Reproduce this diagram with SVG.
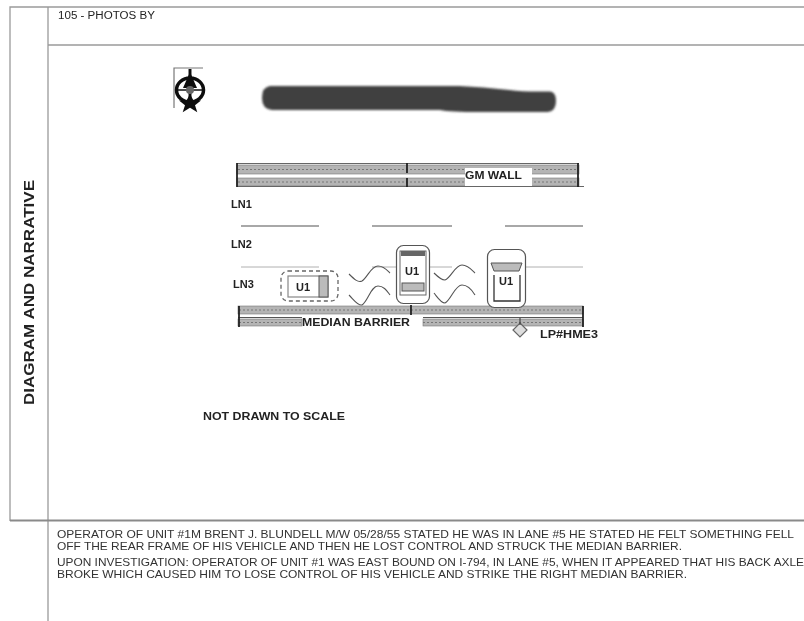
<svg xmlns="http://www.w3.org/2000/svg" width="804" height="621" viewBox="0 0 804 621">
<defs>
<filter id="soft" x="-2%" y="-2%" width="104%" height="104%"><feGaussianBlur stdDeviation="0.65"/></filter>
<filter id="softer" x="-5%" y="-30%" width="110%" height="160%"><feGaussianBlur stdDeviation="1"/></filter>
</defs>
<style>
.frame{stroke:#9a9a9a;stroke-width:1.3;fill:none}
.lane{stroke:#8c8c8c;stroke-width:1.3;fill:none}
.thin{stroke:#b0b0b0;stroke-width:1;fill:none}
.band{fill:#b4b4b4;stroke:#777;stroke-width:.6}
.hatch{stroke:#777;stroke-width:1;stroke-dasharray:2 2;fill:none}
.post{stroke:#222;stroke-width:1.8;fill:none}
.car{fill:#fff;stroke:#555;stroke-width:1.2}
.dash{fill:#fff;stroke:#666;stroke-width:1.3;stroke-dasharray:4 3}
.wave{stroke:#555;stroke-width:1.1;fill:none}
.t{font-family:"Liberation Sans",Arial,sans-serif;fill:#222}
.b{font-weight:bold}
.body{font-size:10.500px;fill:#333}
.lab{font-size:11px;font-weight:bold}
</style>
<rect width="804" height="621" fill="#fff"/>
<g filter="url(#soft)">
<g id="frame">
<path class="frame" d="M10 521V7H804M48 7V621M48 45H804"/>
<path d="M10 520.500H804" stroke="#8a8a8a" stroke-width="2" fill="none"/>
<text class="t b" font-size="14.500" transform="translate(34 405) rotate(-90)" textLength="225" lengthAdjust="spacingAndGlyphs">DIAGRAM AND NARRATIVE</text>
<text class="t" font-size="10" x="58" y="19" fill="#444" textLength="97" lengthAdjust="spacingAndGlyphs">105 - PHOTOS BY</text>
</g>
<g id="north">
<path d="M203 68H174V108" stroke="#777" stroke-width="1.2" fill="none"/>
<ellipse cx="190" cy="90" rx="13.500" ry="12" fill="none" stroke="#111" stroke-width="3.500"/>
<path d="M188.500 69h3V100h-3z" fill="#111"/>
<path d="M190 72L197 88H183Z" fill="#111"/>
<path d="M176 90H204" stroke="#111" stroke-width="1.500"/>
<circle cx="190" cy="90" r="4" fill="#666"/>
<path d="M190 94l3.500 6.500h7.500l-6 4.800 2.300 7-7.300-4.500-7.300 4.500 2.300-7-6-4.800h7.500z" fill="#111"/>
</g>
<g id="redaction" filter="url(#softer)">
<path d="M270 86H450C480 86 500 90 530 91.500H550Q556 92 556 101Q556 111 548 112H480Q450 112 440 110H300L272 110Q262 109 262 98Q262 87 270 86Z" fill="#3f3f3f"/>
</g>
<g id="gm-wall">
<rect class="band" x="237" y="165" width="342" height="9"/>
<rect class="band" x="237" y="178" width="342" height="8"/>
<path class="hatch" d="M238 169.500H578M238 182H578"/>
<path d="M237 163.500H579M237 186.500H584" stroke="#666" stroke-width="1" fill="none"/>
<path class="post" d="M237 163V187M578 163V187M407 163V173M407 178V187"/>
<rect x="465" y="168" width="67" height="18" fill="#fff"/>
<text class="t lab" x="465" y="179" textLength="57" lengthAdjust="spacingAndGlyphs">GM WALL</text>
</g>
<g id="lanes">
<path class="lane" d="M241 226H319M372 226H452M505 226H583"/>
<path class="thin" d="M241 267H319M372 267H452M505 267H583"/>
<text class="t lab" x="231" y="208">LN1</text>
<text class="t lab" x="231" y="248">LN2</text>
<text class="t lab" x="233" y="288">LN3</text>
</g>
<g id="median-barrier">
<rect class="band" x="238" y="306" width="345" height="8"/>
<rect class="band" x="238" y="319" width="64" height="7"/>
<rect class="band" x="423" y="319" width="160" height="7"/>
<path class="hatch" d="M239 310H582M239 322.500H302M423 322.500H582"/>
<path d="M238 317.500H302M423 317.500H583" stroke="#555" stroke-width="1" fill="none"/>
<path class="post" d="M239 306V327M583 306V327M411 305V315"/>
<text class="t lab" x="302" y="326" textLength="108" lengthAdjust="spacingAndGlyphs">MEDIAN BARRIER</text>
</g>
<g id="lp-marker">
<path d="M520 323L527 330L520 337L513 330Z" fill="#ddd" stroke="#666" stroke-width="1.200"/>
<path d="M520 318V325" stroke="#444" stroke-width="1.200"/>
<text class="t lab" x="540" y="338" textLength="58" lengthAdjust="spacingAndGlyphs">LP#HME3</text>
</g>
<g id="skid-marks">
<path class="wave" d="M349 274C354 279 358 283 362 281C368 277 371 266 378 266C384 266 387 270 390 273"/>
<path class="wave" d="M349 295C354 300 358 306 362 305C368 301 371 286 378 286C384 286 387 291 390 295"/>
<path class="wave" d="M434 273C438 277 441 280 445 280C451 278 455 265 462 265C468 265 472 270 475 273"/>
<path class="wave" d="M434 293C438 298 441 303 445 303C451 300 455 285 462 285C468 285 472 290 475 295"/>
</g>
<g id="car-a">
<rect class="dash" x="281" y="271" width="57" height="30" rx="7"/>
<rect x="288" y="276" width="40" height="21" fill="none" stroke="#888" stroke-width="1.200"/>
<rect x="319" y="276" width="9" height="21" fill="#bbb" stroke="#555"/>
<text class="t lab" x="296" y="291" font-size="12">U1</text>
</g>
<g id="car-b">
<rect class="car" x="396.500" y="245.500" width="33" height="58" rx="7"/>
<rect x="400" y="251" width="26" height="44" fill="none" stroke="#666"/>
<rect x="401" y="251" width="24" height="5" fill="#666"/>
<rect x="402" y="283" width="22" height="8" fill="#bbb" stroke="#555"/>
<text class="t lab" x="405" y="275" font-size="12">U1</text>
</g>
<g id="car-c">
<rect class="car" x="487.500" y="249.500" width="38" height="58" rx="7"/>
<path d="M491 263H522L519 271H494Z" fill="#bbb" stroke="#555"/>
<path d="M494 275V301H520V275" fill="none" stroke="#333" stroke-width="1.300"/>
<text class="t lab" x="499" y="285" font-size="12">U1</text>
</g>
<g id="note">
<text class="t lab" x="203" y="420" textLength="142" lengthAdjust="spacingAndGlyphs">NOT DRAWN TO SCALE</text>
</g>
<g id="narrative">
<text class="t body" x="57" y="538" textLength="737" lengthAdjust="spacingAndGlyphs">OPERATOR OF UNIT #1M BRENT J. BLUNDELL M/W 05/28/55 STATED HE WAS IN LANE #5 HE STATED HE FELT SOMETHING FELL</text>
<text class="t body" x="57" y="550" textLength="625" lengthAdjust="spacingAndGlyphs">OFF THE REAR FRAME OF HIS VEHICLE AND THEN HE LOST CONTROL AND STRUCK THE MEDIAN BARRIER.</text>
<text class="t body" x="57" y="566" textLength="747" lengthAdjust="spacingAndGlyphs">UPON INVESTIGATION: OPERATOR OF UNIT #1 WAS EAST BOUND ON I-794, IN LANE #5, WHEN IT APPEARED THAT HIS BACK AXLE</text>
<text class="t body" x="57" y="578" textLength="630" lengthAdjust="spacingAndGlyphs">BROKE WHICH CAUSED HIM TO LOSE CONTROL OF HIS VEHICLE AND STRIKE THE RIGHT  MEDIAN BARRIER.</text>
</g>
</g>
</svg>
